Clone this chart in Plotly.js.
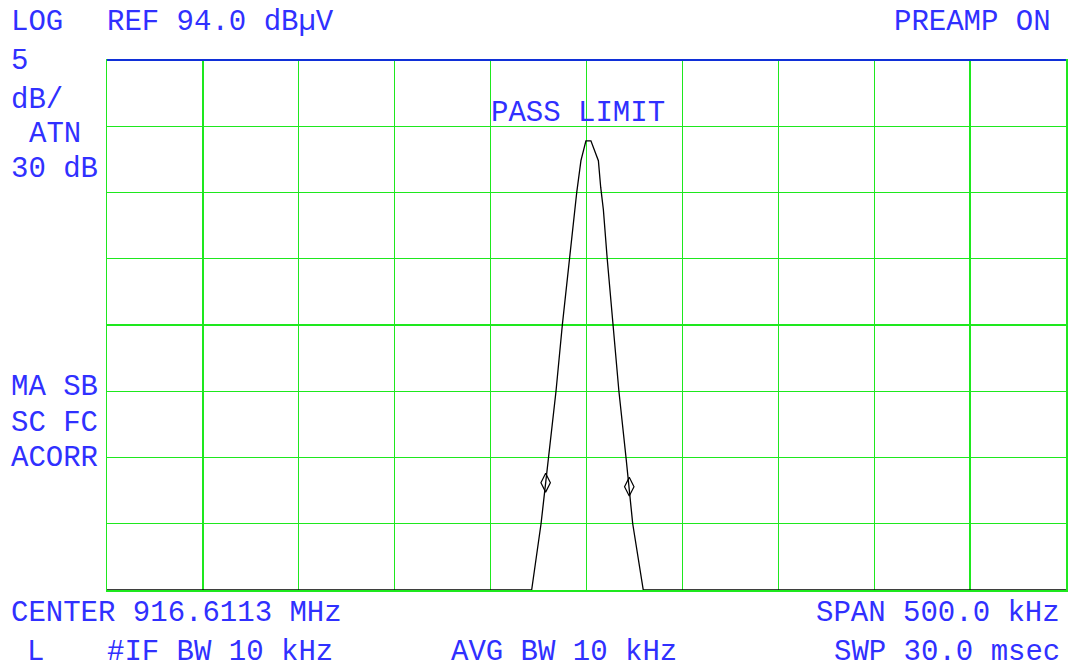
<!DOCTYPE html>
<html>
<head>
<meta charset="utf-8">
<script src="https://cdn.plot.ly/plotly-3.0.1.min.js"></script>
<style>
html,body{margin:0;padding:0;background:#fff;}
#chart{width:1069px;height:669px;}
</style>
</head>
<body>
<div id="chart"></div>
<script>
// Trace data (frequency in MHz, level in dBµV)
const freqMHz = [916.3613, 916.5827, 916.5876, 916.5914, 916.5954, 916.5987, 916.6023, 916.6062, 916.6084, 916.6110,
                 916.6136, 916.6175, 916.6187, 916.6201, 916.6221, 916.6253, 916.6282, 916.6319, 916.6354, 916.6409, 916.8613];
const levelDbuV = [54, 54, 59, 64, 69, 74, 79, 84, 86.4, 87.9,
                   87.9, 86.4, 84.4, 82.7, 79, 74, 69, 64, 59, 54, 54];
// Marker (diamond) positions
const markerFreq = [916.5900, 916.6336];
const markerLevel = [62.1, 61.8];

// Settings
const centerMHz = 916.6113;
const spanMHz = 0.5;
const refLevel = 94.0;
const dbPerDiv = 5;
const divsX = 10, divsY = 8;

// Screen annotations
const labels = [
  {text: "LOG", px: 10, py: 23},
  {text: "REF 94.0 dBµV", px: 106, py: 23},
  {text: "PREAMP ON", px: 893, py: 23},
  {text: "5", px: 10, py: 61},
  {text: "dB/", px: 10, py: 100},
  {text: "ATN", px: 28, py: 134},
  {text: "30 dB", px: 10, py: 170},
  {text: "MA SB", px: 10, py: 387},
  {text: "SC FC", px: 10, py: 423},
  {text: "ACORR", px: 10, py: 459},
  {text: "PASS LIMIT", px: 490, py: 114},
  {text: "CENTER 916.6113 MHz", px: 10, py: 613},
  {text: "L", px: 26, py: 652},
  {text: "#IF BW 10 kHz", px: 106, py: 652},
  {text: "AVG BW 10 kHz", px: 450, py: 652},
  {text: "SPAN 500.0 kHz", px: 815, py: 613},
  {text: "SWP 30.0 msec", px: 833, py: 652}
];

const L = 107, R = 1066, T = 60, B = 590;
const W = 1069, H = 669;
const xmin = centerMHz - spanMHz / 2, xmax = centerMHz + spanMHz / 2;
const ymax = refLevel, ymin = refLevel - dbPerDiv * divsY;

const green = "#1ee81e";
const blue = "#3030ff";
const font = {family: "Liberation Mono, DejaVu Sans Mono, monospace", size: 29, color: blue};

const annotations = labels.map(l => ({
  text: l.text,
  xref: "paper", yref: "paper",
  x: (l.px - L) / (R - L),
  y: (B - l.py) / (B - T),
  xanchor: "left", yanchor: "middle",
  showarrow: false,
  font: font,
  borderpad: 0
}));

const traces = [
  {
    x: freqMHz, y: levelDbuV, type: "scatter", mode: "lines",
    line: {color: "#000000", width: 1.3},
    hoverinfo: "skip"
  },
  {
    x: markerFreq, y: markerLevel, type: "scatter", mode: "markers",
    marker: {symbol: "diamond-tall-open", size: 13.5, color: "#000000", line: {width: 1.2, color: "#000000"}},
    hoverinfo: "skip"
  }
];

const layout = {
  width: W, height: H,
  margin: {l: L, r: W - R, t: T, b: H - B, pad: 0},
  paper_bgcolor: "#ffffff",
  plot_bgcolor: "#ffffff",
  showlegend: false,
  xaxis: {
    range: [xmin, xmax], tick0: xmin, dtick: spanMHz / divsX,
    showgrid: true, gridcolor: green, gridwidth: 1.2,
    showticklabels: false, ticks: "", zeroline: false,
    showline: true, linecolor: green, linewidth: 1.5, mirror: true
  },
  yaxis: {
    range: [ymin, ymax], tick0: ymin, dtick: dbPerDiv,
    showgrid: true, gridcolor: green, gridwidth: 1.2,
    showticklabels: false, ticks: "", zeroline: false,
    showline: true, linecolor: green, linewidth: 1.5, mirror: true
  },
  shapes: [
    {type: "line", xref: "paper", yref: "paper", x0: 0, x1: 1, y0: 1, y1: 1,
     line: {color: "#1030d8", width: 2}}
  ],
  annotations: annotations
};

Plotly.newPlot("chart", traces, layout, {staticPlot: true, displayModeBar: false});
</script>
</body>
</html>
